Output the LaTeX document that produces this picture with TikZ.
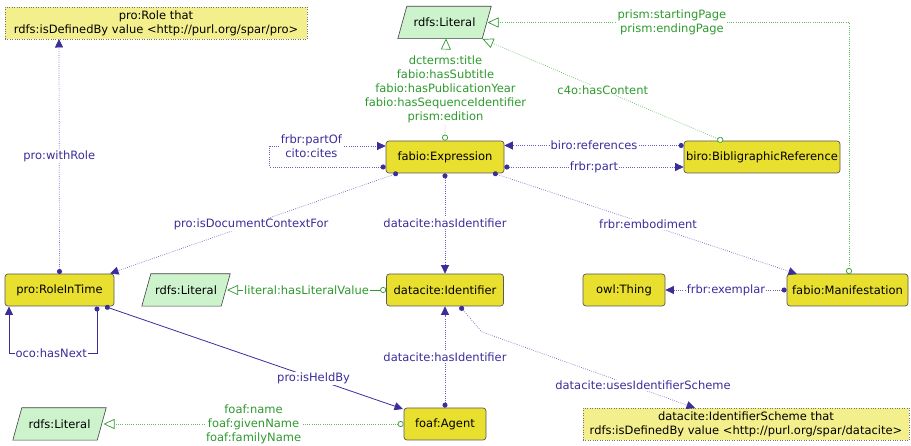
\documentclass[tikz,border=0pt]{standalone}
\usepackage{fontspec}
\setmainfont{DejaVu Sans}
\usetikzlibrary{arrows.meta,calc}
\pgfdeclarelayer{bg}
\pgfsetlayers{bg,main}
\definecolor{clsfill}{HTML}{E9DF2E}
\definecolor{xfill}{HTML}{F3EF8C}
\definecolor{litfill}{HTML}{CDF3CD}
\definecolor{bl}{HTML}{3A2E9A}
\definecolor{bll}{HTML}{6A5FC0}
\definecolor{gr}{HTML}{2E9A2E}
\definecolor{grl}{HTML}{5EBE5E}
\begin{document}
\begin{tikzpicture}[x=1pt,y=-1pt,
  txt/.style={font=\fontsize{11.5}{14}\selectfont},
  cls/.style={txt, draw=black!65, line width=0.7pt, fill=clsfill, rounded corners=3pt, minimum height=32pt, inner sep=0pt},
  clsx/.style={txt, draw=black!55, dotted, fill=xfill, minimum height=32pt, inner sep=0pt, align=center},
  lit/.style={txt, minimum height=32pt, inner sep=0pt},
  litshape/.style={draw=black!75, line width=0.6pt, fill=litfill},
  ob/.style={draw=bll, line width=0.7pt, dash pattern=on 0.7pt off 1.5pt, arrows={Circle[length=5pt,color=bl]-Triangle[length=8.5pt,width=8pt,color=bl]}},
  obs/.style={draw=bl, line width=0.8pt, arrows={Circle[length=5pt,color=bl]-Triangle[length=8.5pt,width=8pt,color=bl]}},
  dp/.style={draw=grl, line width=0.7pt, dash pattern=on 0.7pt off 1.5pt, arrows={Circle[length=6pt,color=gr,fill=white,line width=0.7pt]-Triangle[length=11pt,width=10pt,color=gr,fill=white,line width=0.7pt]}},
  dps/.style={draw=gr, line width=0.7pt, arrows={Circle[length=6pt,color=gr,fill=white,line width=0.7pt]-Triangle[length=11pt,width=10pt,color=gr,fill=white,line width=0.7pt]}},
  lblb/.style={txt, text=bl, fill=white, inner sep=1pt, align=center},
  lblg/.style={txt, text=gr, fill=white, inner sep=1pt, align=center}
]
\begin{pgfonlayer}{bg}
\fill[white] (0,0) rectangle (911,446);
\end{pgfonlayer}
\useasboundingbox (0,0) rectangle (911,446);

% nodes
\node[clsx, minimum width=302pt] (role) at (156,23) {pro:Role that\\rdfs:isDefinedBy value <http://purl.org/spar/pro>};
\node[lit, minimum width=93pt] (lit1) at (444.5,22.5) {rdfs:Literal};
\node[cls, minimum width=118pt] (expr) at (445,157) {fabio:Expression};
\node[cls, minimum width=156pt] (biro) at (762,157) {biro:BibligraphicReference};
\node[cls, minimum width=109pt] (rit) at (59.5,290) {pro:RoleInTime};
\node[lit, minimum width=88pt] (lit2) at (186,290) {rdfs:Literal};
\node[cls, minimum width=117pt] (ident) at (445,290) {datacite:Identifier};
\node[cls, minimum width=82pt] (thing) at (624,290) {owl:Thing};
\node[cls, minimum width=121pt] (manif) at (847.5,290) {fabio:Manifestation};
\node[lit, minimum width=93pt] (lit3) at (59.5,424) {rdfs:Literal};
\node[cls, minimum width=82pt] (agent) at (445,424) {foaf:Agent};
\node[clsx, minimum width=326pt] (scheme) at (746,424) {datacite:IdentifierScheme that\\rdfs:isDefinedBy value <http://purl.org/spar/datacite>};

% parallelogram outlines of the literal nodes
\begin{pgfonlayer}{bg}
\foreach \n in {lit1,lit2,lit3}{
  \draw[litshape] (\n.south west) -- ($(\n.south east)+(-9,0)$) -- (\n.north east) -- ($(\n.north west)+(9,0)$) -- cycle;
}
\end{pgfonlayer}

% connectors
\draw[ob] ($(rit)+(0,-16)$) -- node[lblb]{pro:withRole} ($(role)+(-97,16)$);
\draw[ob] ($(expr.west)+(0,10)$) -- ++(-116,0) -- ++(0,-21) -- node[lblb,pos=0.36]{frbr:partOf\\cito:cites} ($(expr.west)+(0,-11)$);
\draw[dp] (expr.north) -- node[lblg]{dcterms:title\\fabio:hasSubtitle\\fabio:hasPublicationYear\\fabio:hasSequenceIdentifier\\prism:edition} ($(lit1)+(1.5,16)$);
\draw[dp] ($(biro)+(-39,-16)$) -- node[lblg]{c4o:hasContent} ($(lit1)+(38,16.5)$);
\draw[dp] ($(manif)+(1.5,-16)$) |- node[lblg,pos=0.745]{prism:startingPage\\prism:endingPage} ($(lit1)+(43,0)$);
\draw[ob] ($(biro.west)+(0,-11.5)$) -- node[lblb]{biro:references} ($(expr.east)+(0,-11.5)$);
\draw[ob] ($(expr.east)+(0,10)$) -- node[lblb]{frbr:part} ($(biro.west)+(0,10)$);
\draw[ob] ($(expr)+(-47,16)$) -- node[lblb,pos=0.51]{pro:isDocumentContextFor} ($(rit)+(50.5,-16.5)$);
\draw[ob] (expr.south) -- node[lblb]{datacite:hasIdentifier} (ident.north);
\draw[ob] ($(expr)+(48,16)$) -- node[lblb,pos=0.51]{frbr:embodiment} ($(manif)+(-50.5,-16)$);
\draw[dps] (ident.west) -- node[lblg]{literal:hasLiteralValue} ($(lit2)+(41,0)$);
\draw[ob] (manif.west) -- node[lblb]{frbr:exemplar} (thing.east);
\draw[obs] ($(rit)+(37.5,16.5)$) -- ++(0,47) -| node[lblb,pos=0.26]{oco:hasNext} ($(rit)+(-50.5,16.5)$);
\draw[obs] ($(rit)+(45.5,16.5)$) -- node[lblb,pos=0.70]{pro:isHeldBy} ($(agent)+(-42,-15)$);
\draw[ob] (agent.north) -- node[lblb]{datacite:hasIdentifier} (ident.south);
\draw[ob] ($(ident)+(15,16.5)$) -- ($(ident)+(37,42)$) -- node[lblb,pos=0.756,yshift=4pt]{datacite:usesIdentifierScheme} ($(scheme)+(-51,-16)$);
\draw[dp] (agent.west) -- node[lblg]{foaf:name\\foaf:givenName\\foaf:familyName} ($(lit3)+(44,0)$);
\end{tikzpicture}
\end{document}
